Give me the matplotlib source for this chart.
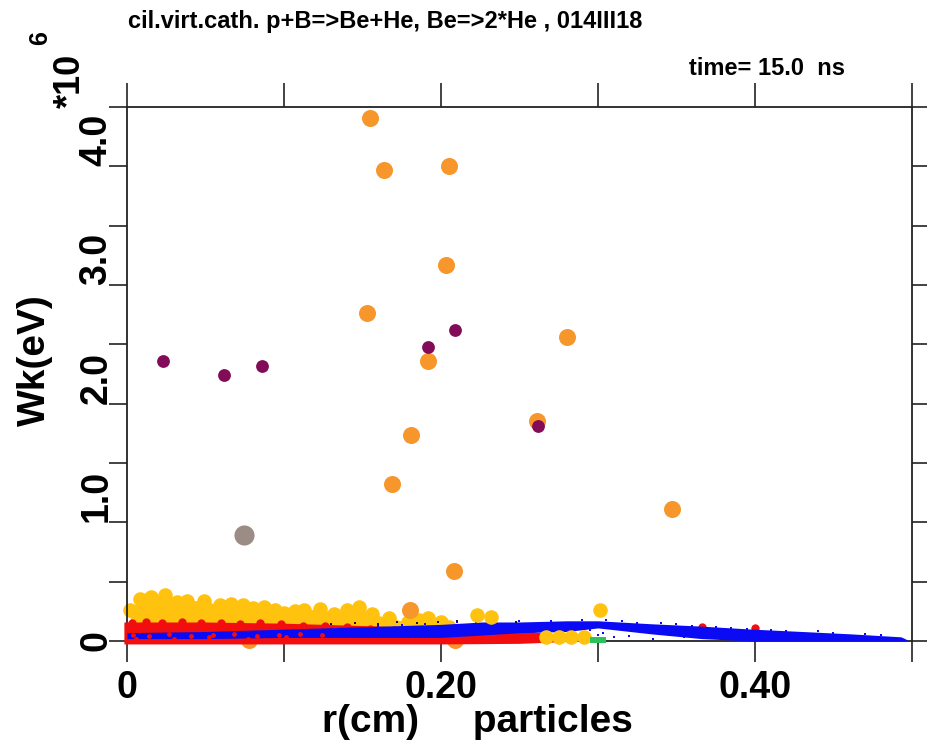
import matplotlib
matplotlib.use("Agg")
import matplotlib.pyplot as plt

# ---- data (energies in units of 1e6 eV, radius in cm) ----
orange_r = [0.155, 0.164, 0.205, 0.2035, 0.153, 0.2805, 0.1915, 0.261, 0.181, 0.169, 0.347, 0.208, 0.180, 0.078, 0.209]
orange_w = [4.41, 3.97, 4.00, 3.17, 2.76, 2.56, 2.36, 1.85, 1.74, 1.32, 1.11, 0.59, 0.26, 0.01, 0.01]

purple_r = [0.023, 0.0617, 0.0859, 0.192, 0.2087, 0.2615]
purple_w = [2.36, 2.24, 2.32, 2.48, 2.62, 1.81]

grey_r = [0.0744]
grey_w = [0.89]

# gold cloud: upper row of particles and the body underneath
gold_r = [0.002, 0.008, 0.015, 0.024, 0.032, 0.038, 0.049, 0.059, 0.066, 0.074, 0.080, 0.087,
          0.094, 0.100, 0.107, 0.113, 0.123, 0.132, 0.140, 0.148, 0.156, 0.167, 0.179, 0.186,
          0.192, 0.200, 0.205]
gold_w = [0.26, 0.35, 0.37, 0.39, 0.33, 0.34, 0.34, 0.30, 0.31, 0.30, 0.28, 0.29,
          0.26, 0.24, 0.25, 0.26, 0.27, 0.23, 0.26, 0.29, 0.23, 0.19, 0.16, 0.18,
          0.19, 0.16, 0.12]
gold_low = 0.10
gold_extra_r = [0.223, 0.232, 0.301, 0.267, 0.275, 0.283, 0.291]
gold_extra_w = [0.22, 0.20, 0.26, 0.03, 0.03, 0.03, 0.03]

# red cloud envelope
red_r = [-0.002, 0.05, 0.10, 0.15, 0.20, 0.25, 0.27, 0.28]
red_lo = [-0.025, -0.025, -0.025, -0.025, -0.025, -0.02, -0.01, 0.0]
red_hi = [0.16, 0.16, 0.15, 0.13, 0.11, 0.09, 0.06, 0.02]
red_pts_r = [0.003, 0.012, 0.022, 0.035, 0.047, 0.060, 0.072, 0.085, 0.098, 0.112, 0.126, 0.140,
             0.155, 0.170, 0.185, 0.200, 0.215, 0.230, 0.245, 0.258, 0.366, 0.400]
red_pts_w = [0.15, 0.16, 0.15, 0.16, 0.15, 0.15, 0.14, 0.15, 0.14, 0.13, 0.13, 0.12,
             0.10, 0.09, 0.08, 0.08, 0.07, 0.06, 0.05, 0.05, 0.12, 0.11]
# red particles mixed into the blue layer near the axis
red_mix_r = [0.004, 0.014, 0.027, 0.041, 0.055, 0.068, 0.083, 0.097, 0.110, 0.124, 0.006, 0.030, 0.052, 0.077, 0.101]
red_mix_w = [0.05, 0.04, 0.06, 0.04, 0.05, 0.06, 0.04, 0.05, 0.06, 0.05, 0.02, 0.02, 0.03, 0.02, 0.03]

# blue cloud envelope
blue_r = [0.0, 0.05, 0.10, 0.15, 0.20, 0.226, 0.25, 0.28, 0.30, 0.334, 0.366, 0.398, 0.43, 0.461, 0.493, 0.497]
blue_lo = [0.02, 0.02, 0.03, 0.03, 0.03, 0.05, 0.07, 0.08, 0.11, 0.06, 0.02, 0.0, 0.0, 0.0, 0.0, 0.0]
blue_hi = [0.07, 0.08, 0.10, 0.12, 0.14, 0.16, 0.16, 0.17, 0.17, 0.145, 0.125, 0.10, 0.08, 0.06, 0.035, 0.01]
blue_dots_r = [0.16, 0.175, 0.19, 0.21, 0.235, 0.25, 0.27, 0.29, 0.305, 0.315, 0.325, 0.34, 0.35,
               0.36, 0.375, 0.385, 0.395, 0.41, 0.42, 0.44, 0.45, 0.47, 0.48, 0.30, 0.31, 0.32,
               0.335, 0.345, 0.355, 0.295, 0.303]
blue_dots_w = [0.128, 0.135, 0.145, 0.158, 0.165, 0.168, 0.172, 0.178, 0.176, 0.165, 0.155, 0.148, 0.14,
               0.13, 0.12, 0.108, 0.105, 0.095, 0.088, 0.08, 0.07, 0.055, 0.048, 0.05, 0.03, 0.04,
               0.02, 0.05, 0.03, 0.09, 0.07]
dark_r = [0.13, 0.145, 0.16, 0.172, 0.185, 0.198, 0.21, 0.222, 0.235, 0.248]
dark_w = [0.14, 0.15, 0.14, 0.16, 0.15, 0.16, 0.17, 0.16, 0.17, 0.16]

green_r = [0.297, 0.300, 0.303]
green_w = [0.005, 0.005, 0.005]

x_ticks = [0.0, 0.1, 0.2, 0.3, 0.4, 0.5]
x_labels = ["0", "", "0.20", "", "0.40", ""]
y_ticks = [0.0, 0.5, 1.0, 1.5, 2.0, 2.5, 3.0, 3.5, 4.0, 4.5]
y_labels = ["0", "", "1.0", "", "2.0", "", "3.0", "", "4.0", ""]

plt.rcParams["font.family"] = ["Liberation Sans", "DejaVu Sans"]
plt.rcParams["font.weight"] = "bold"

fig = plt.figure(figsize=(9.32, 7.51), dpi=100)
ax = fig.add_axes([0.1363, 0.1465, 0.8422, 0.711])

C_GOLD = "#FFC20E"
C_ORANGE = "#F7962B"
C_RED = "#F20E0E"
C_BLUE = "#0A0AF5"
C_PURPLE = "#820C58"
C_GREY = "#9C8C86"

# gold body and top row
ax.fill_between(gold_r, gold_low, gold_w, color=C_GOLD, lw=0, zorder=1)
ax.scatter(gold_r, gold_w, s=110, color=C_GOLD, lw=0, zorder=1.1, clip_on=False)

ax.scatter(orange_r, orange_w, s=150, color=C_ORANGE, lw=0, zorder=2, clip_on=False)

# red cloud
ax.fill_between(red_r, red_lo, red_hi, color=C_RED, lw=0, zorder=3, clip_on=False)
ax.scatter(red_pts_r, red_pts_w, s=36, color=C_RED, lw=0, zorder=3.1, clip_on=False)

# blue cloud
ax.fill_between(blue_r, blue_lo, blue_hi, color=C_BLUE, lw=0, zorder=4)
ax.scatter(blue_dots_r, blue_dots_w, s=3, marker="s", color=C_BLUE, lw=0, zorder=4.1)
ax.scatter(dark_r, dark_w, s=3, marker="s", color="#1a1040", lw=0, zorder=4.2)
ax.scatter(red_mix_r, red_mix_w, s=12, marker="o", color=C_RED, lw=0, zorder=4.3)

ax.scatter(gold_extra_r, gold_extra_w, s=110, color=C_GOLD, lw=0, zorder=4.5, clip_on=False)
ax.scatter(green_r, green_w, s=18, marker="s", color="#2BC25A", lw=0, zorder=4.6, clip_on=False)

ax.scatter(purple_r, purple_w, s=85, color=C_PURPLE, lw=0, zorder=5)
ax.scatter(grey_r, grey_w, s=210, color=C_GREY, lw=0, zorder=5)

ax.set_xlim(0, 0.5)
ax.set_ylim(0, 4.5)

for sp in ax.spines.values():
    sp.set_linewidth(1.3)
    sp.set_color("#222222")

ax.set_xticks(x_ticks)
ax.set_xticklabels(x_labels, fontsize=27, fontweight="bold")
ax.set_yticks(y_ticks)
ax.set_yticklabels(y_labels, fontsize=27, fontweight="bold", rotation=90)
ax.tick_params(axis="x", which="both", direction="out", bottom=True, top=True,
               length=15, width=1.2, pad=6, colors="#222222", labelcolor="black")
ax.tick_params(axis="y", which="both", direction="out", left=True, right=True,
               length=13, width=1.2, pad=-4, colors="#222222", labelcolor="black")
for t in ax.xaxis.get_major_ticks():
    t.tick2line.set_markersize(17)
for t in ax.yaxis.get_major_ticks():
    t.tick2line.set_markersize(11)
for lab in ax.get_yticklabels():
    if lab.get_text() and lab.get_text() != "0":
        lab.set_va("bottom")
    else:
        lab.set_va("center")

fig.text(0.1373, 0.972, "cil.virt.cath. p+B=>Be+He, Be=>2*He , 014III18",
         fontsize=17, fontweight="bold", ha="left", va="center")
fig.text(0.907, 0.909, "time= 15.0  ns", fontsize=17, fontweight="bold",
         ha="right", va="center")
fig.text(0.512, 0.039, "r(cm)     particles", fontsize=28, fontweight="bold",
         ha="center", va="center")
fig.text(0.038, 0.52, "Wk(eV)", fontsize=28, fontweight="bold", rotation=90,
         ha="center", va="center")
fig.text(0.076, 0.892, "*10", fontsize=26, fontweight="bold", rotation=90,
         ha="center", va="center")
fig.text(0.043, 0.949, "6", fontsize=18, fontweight="bold", rotation=90,
         ha="center", va="center")

fig.savefig("out.png", dpi=100)
